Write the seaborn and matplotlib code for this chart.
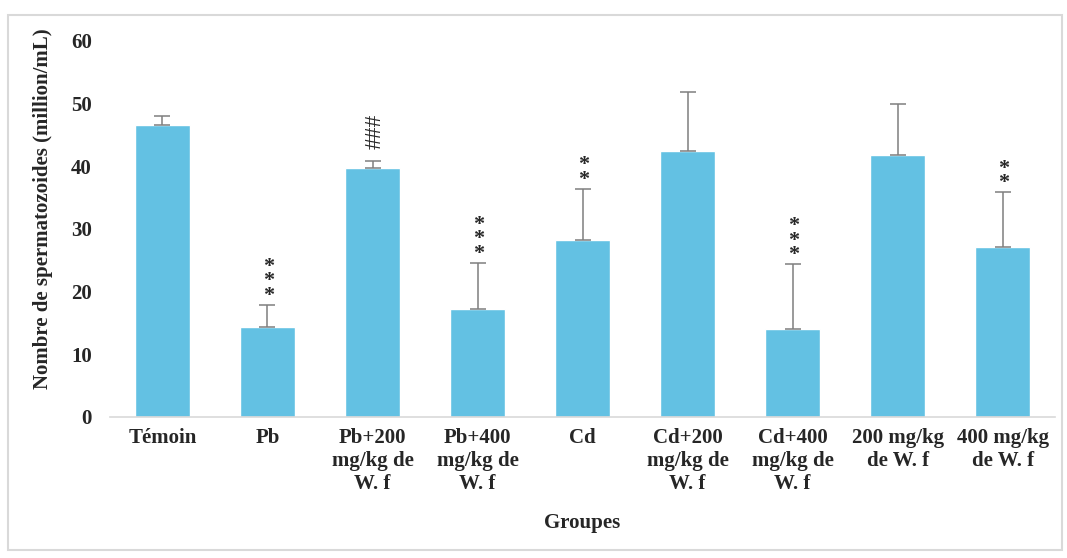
import matplotlib
matplotlib.use("Agg")
import matplotlib.pyplot as plt
import seaborn as sns
import pandas as pd
from matplotlib.patches import Rectangle

# Data
groups = ["Témoin", "Pb", "Pb+200\nmg/kg de\nW. f", "Pb+400\nmg/kg de\nW. f", "Cd",
          "Cd+200\nmg/kg de\nW. f", "Cd+400\nmg/kg de\nW. f", "200 mg/kg\nde W. f", "400 mg/kg\nde W. f"]
means = [46.6, 14.4, 39.7, 17.2, 28.2, 42.4, 14.0, 41.8, 27.1]
errors = [1.4, 3.5, 1.1, 7.4, 8.2, 9.4, 10.4, 8.1, 8.8]
marks = ["", "***", "###", "***", "**", "", "***", "", "**"]

df = pd.DataFrame({"Groupe": groups, "Moyenne": means})

sns.set_style("white")
plt.rcParams["font.family"] = ["Liberation Serif", "DejaVu Serif"]

fig = plt.figure(figsize=(10.67, 5.58), dpi=100)
ax = fig.add_axes([0.103, 0.253, 0.886, 0.674])

sns.barplot(data=df, x="Groupe", y="Moyenne", color="#63c1e3", saturation=1,
            width=0.52, errorbar=None, ax=ax)

# upper error bars only
ax.errorbar(range(len(groups)), means, yerr=[[0] * len(errors), errors], fmt="none",
            ecolor="#7f7f7f", elinewidth=1.1, capsize=6, capthick=1.1)

# significance marks, stacked vertically above the error bars
for i, m in enumerate(marks):
    if not m:
        continue
    top = means[i] + errors[i]
    if m.startswith("#"):
        ax.annotate(m, (i, top), xytext=(2, 9), textcoords="offset points",
                    ha="center", va="bottom", rotation=90, fontsize=17)
    else:
        ax.annotate("\n".join(m), (i, top), xytext=(0.5, -1), textcoords="offset points",
                    ha="center", va="bottom", fontsize=16, fontweight="bold",
                    linespacing=0.64)

ax.set_ylim(0, 60)
ax.set_xlim(-0.5, len(groups) - 0.5)
ax.set_yticks(range(0, 61, 10))
ax.tick_params(axis="both", labelsize=15, length=0)
ax.tick_params(axis="x", pad=8)
ax.tick_params(axis="y", pad=13)
for lab in ax.get_xticklabels() + ax.get_yticklabels():
    lab.set_fontweight("bold")

ax.set_xlabel("Groupes", fontsize=15, fontweight="bold", labelpad=14)
ax.set_ylabel("Nombre de spermatozoides (million/mL)", fontsize=15, fontweight="bold")
ax.yaxis.set_label_coords(-0.060, 0.554)

for s in ["top", "right", "left"]:
    ax.spines[s].set_visible(False)
ax.spines["bottom"].set_color("#d9d9d9")
ax.spines["bottom"].set_linewidth(1.2)

# light frame around the chart
fig.patches.append(Rectangle((8 / 1067, 1 - 550 / 558), 1054 / 1067, 535 / 558,
                             transform=fig.transFigure, fill=False,
                             edgecolor="#d9d9d9", linewidth=1.5))

fig.savefig("out.png", dpi=100)
